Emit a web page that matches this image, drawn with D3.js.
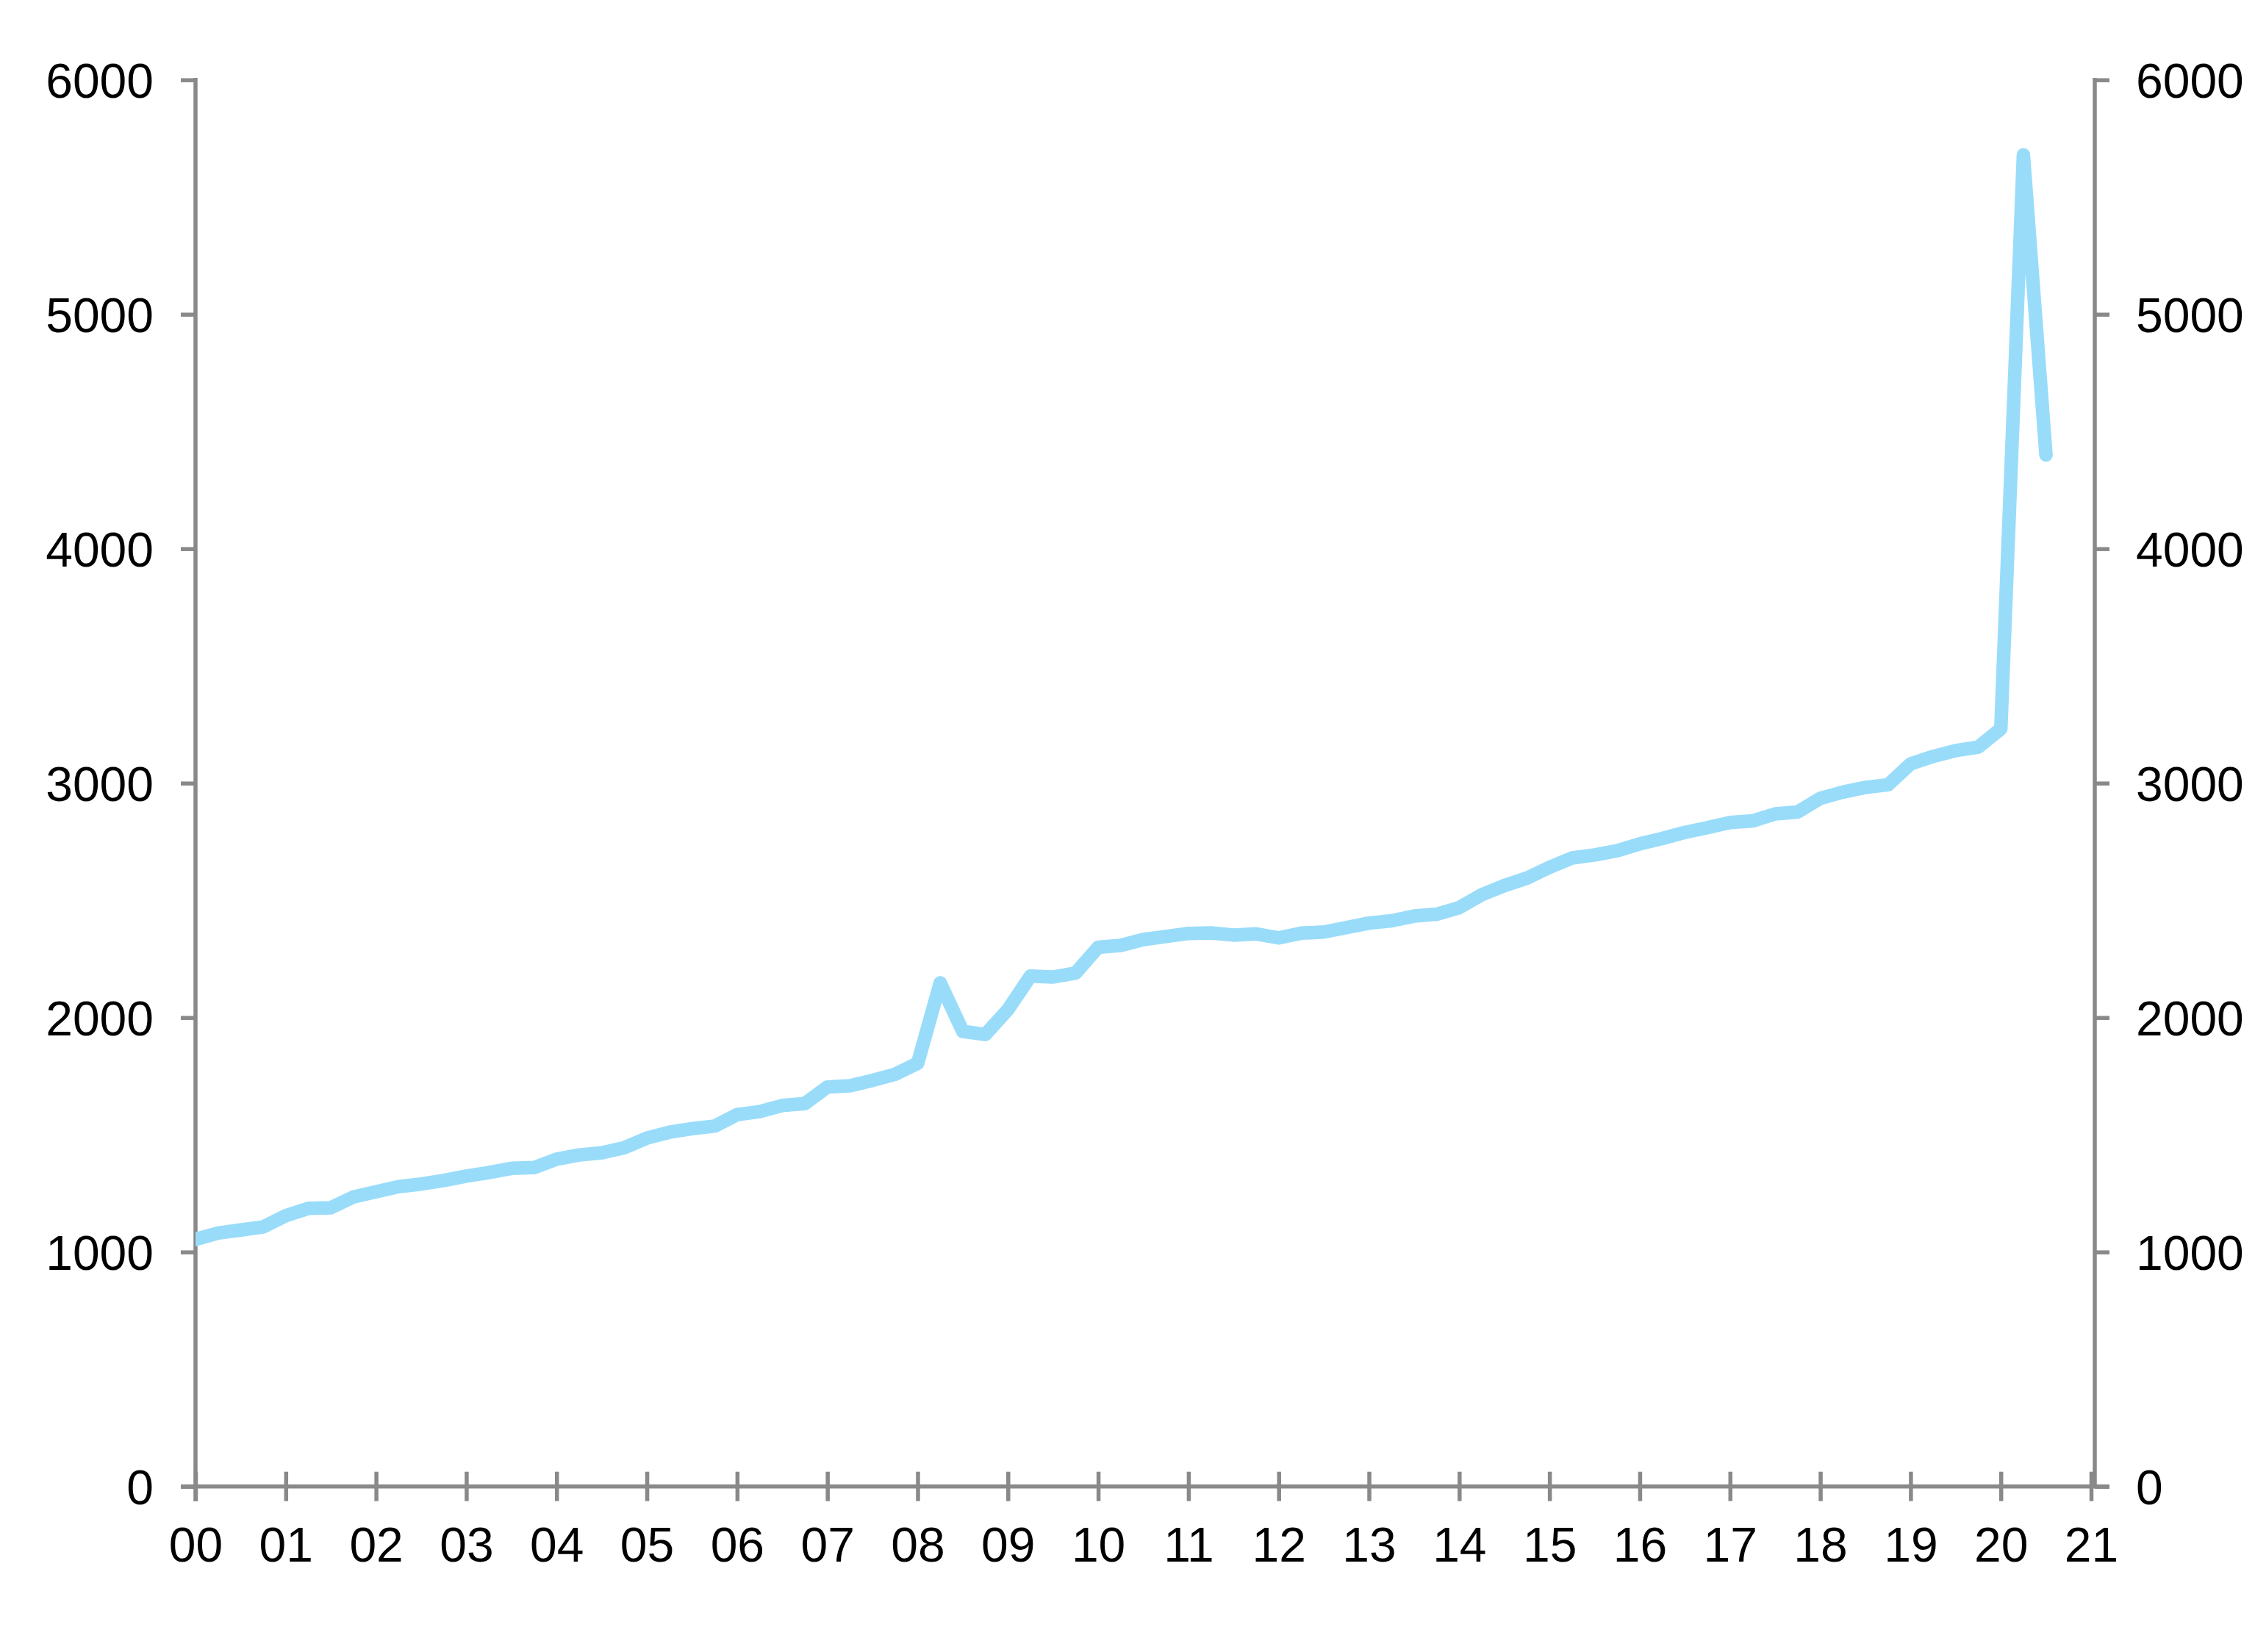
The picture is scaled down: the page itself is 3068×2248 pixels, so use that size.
<!DOCTYPE html>
<html><head><meta charset="utf-8">
<script src="https://cdn.jsdelivr.net/npm/d3@7/dist/d3.min.js"></script>
<style>html,body{margin:0;padding:0;background:#fff;} svg{display:block;}</style>
</head><body>
<svg id="chart" width="3068" height="2248"></svg>
<script>
(function () {
// ---- data ----
const xTickYears  = [2000,2001,2002,2003,2004,2005,2006,2007,2008,2009,2010,2011,2012,2013,2014,2015,2016,2017,2018,2019,2020,2021];
const xTickLabels = ["00","01","02","03","04","05","06","07","08","09","10","11","12","13","14","15","16","17","18","19","20","21"];
const yTicks = [0,1000,2000,3000,4000,5000,6000];
const startYear = 2000;          // first observation: 2000 Q1, quarterly
const values = [
  1054,1081,1094,1107,   // 2000
  1155,1186,1189,1235,   // 2001
  1257,1279,1290,1305,   // 2002
  1324,1339,1357,1360,   // 2003
  1396,1414,1423,1445,   // 2004
  1486,1511,1526,1537,   // 2005
  1586,1599,1625,1633,   // 2006
  1704,1709,1732,1758,   // 2007
  1805,2148,1941,1928,   // 2008
  2034,2177,2173,2190,   // 2009
  2300,2308,2333,2346,   // 2010
  2359,2361,2352,2357,   // 2011
  2340,2360,2365,2384,   // 2012
  2403,2413,2433,2441,   // 2013
  2469,2524,2563,2595,   // 2014
  2641,2681,2694,2712,   // 2015
  2741,2764,2790,2810,   // 2016
  2832,2839,2869,2877,   // 2017
  2935,2962,2982,2993,   // 2018
  3082,3114,3139,3154,   // 2019
  3232,5680,4400         // 2020
];

// ---- layout ----
const W = 3068, H = 2248;
const pLeft = 266, pRight = 2850, xEnd = 2845, pTop = 108.7, pBottom = 2022.7;
const axisColor = "#898989", axisW = 5.5, tickLen = 20;
const font = "'Liberation Sans', Arial, Helvetica, sans-serif";
const fontSize = 66;

const svg = d3.select("#chart");
svg.append("rect").attr("width", W).attr("height", H).attr("fill", "#fff");

const x = d3.scaleLinear().domain([xTickYears[0], xTickYears[xTickYears.length-1]]).range([pLeft, xEnd]);
const y = d3.scaleLinear().domain([0, 6000]).range([pBottom, pTop]);

// left axis
const gL = svg.append("g").attr("transform", `translate(${pLeft},0)`)
  .call(d3.axisLeft(y).tickValues(yTicks).tickSize(tickLen).tickSizeOuter(0).tickPadding(37).tickFormat(d3.format("d")));
// right axis
const gR = svg.append("g").attr("transform", `translate(${pRight},0)`)
  .call(d3.axisRight(y).tickValues(yTicks).tickSize(tickLen).tickSizeOuter(0).tickPadding(36).tickFormat(d3.format("d")));
[gL, gR].forEach(g => {
  g.select(".domain").remove();
  g.selectAll(".tick line").attr("stroke", axisColor).attr("stroke-width", axisW);
  g.selectAll(".tick text").attr("fill", "#000").attr("font-family", font).attr("font-size", fontSize).attr("dy", "0.36em");
});
// vertical axis lines
svg.append("line").attr("x1", pLeft).attr("x2", pLeft).attr("y1", pTop - axisW/2).attr("y2", pBottom + tickLen)
  .attr("stroke", axisColor).attr("stroke-width", axisW);
svg.append("line").attr("x1", pRight).attr("x2", pRight).attr("y1", pTop - axisW/2).attr("y2", pBottom)
  .attr("stroke", axisColor).attr("stroke-width", axisW);

// bottom axis
const gB = svg.append("g").attr("transform", `translate(0,${pBottom})`)
  .call(d3.axisBottom(x).tickValues(xTickYears).tickSize(tickLen).tickSizeOuter(0)
    .tickFormat((d,i) => xTickLabels[i]));
gB.select(".domain").remove();
gB.selectAll(".tick line").attr("y1", -tickLen).attr("y2", tickLen).attr("stroke", axisColor).attr("stroke-width", axisW);
gB.selectAll(".tick text").attr("fill", "#000").attr("font-family", font).attr("font-size", fontSize)
  .attr("y", 102).attr("dy", 0);
svg.append("line").attr("x1", pLeft - tickLen).attr("x2", pRight + tickLen).attr("y1", pBottom).attr("y2", pBottom)
  .attr("stroke", axisColor).attr("stroke-width", axisW);

// clip
svg.append("clipPath").attr("id", "plotclip").append("rect")
  .attr("x", pLeft).attr("y", 0).attr("width", pRight - pLeft).attr("height", pBottom);

// line
const line = d3.line().x((d, i) => x(startYear + i / 4)).y(d => y(d));
svg.append("path").datum(values)
  .attr("clip-path", "url(#plotclip)")
  .attr("d", line)
  .attr("fill", "none")
  .attr("stroke", "#99dcfa")
  .attr("stroke-width", 18.5)
  .attr("stroke-linejoin", "round")
  .attr("stroke-linecap", "round");
})();
</script>
</body></html>
